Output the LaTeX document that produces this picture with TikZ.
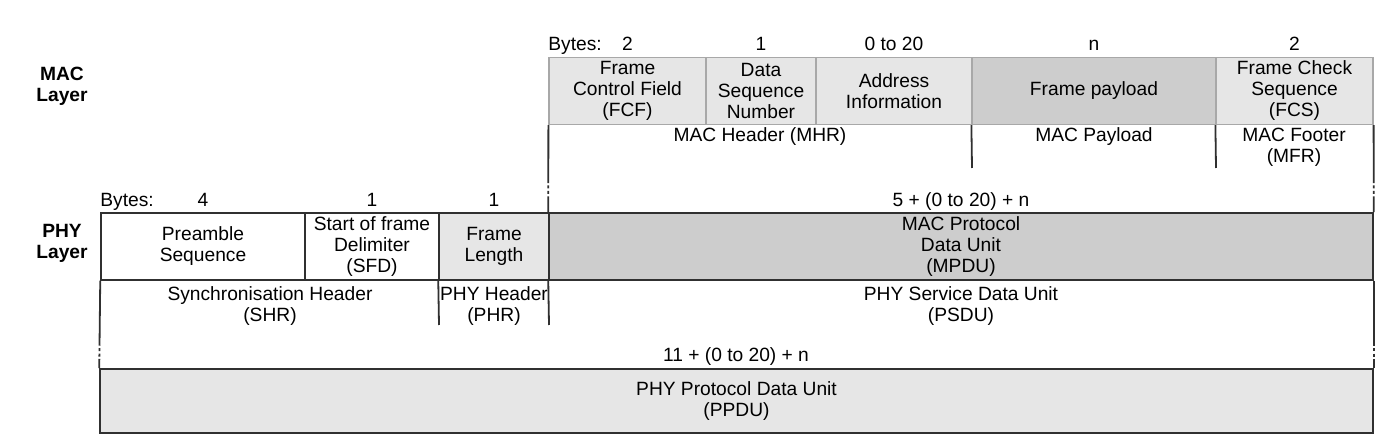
\documentclass[tikz,border=0pt]{standalone}
\usepackage{fontspec}
\setmainfont{Liberation Sans}
\definecolor{boxlight}{HTML}{E6E6E6}
\definecolor{boxdark}{HTML}{CDCDCD}
\definecolor{macedge}{HTML}{A8A8A8}
\definecolor{phyedge}{HTML}{303030}

\begin{document}
\begin{tikzpicture}
[x=0.5pt,y=-0.5pt,
font=\fontsize{9.6}{10.5}\selectfont,
fld/.style={rectangle,draw=macedge,line width=0.6pt,inner sep=0pt,align=center,minimum height=33.5pt},
pfld/.style={fld,draw=phyedge,line width=0.75pt},
lbl/.style={inner sep=0pt,align=center},
nb/.style={inner sep=0pt,anchor=base},
ln/.style={draw=phyedge,line width=0.9pt},
brk/.style={ln,dash pattern=on #1 off 1.2pt on 1.5pt off 1.2pt on 1.5pt off 1.2pt on 40pt}]
\useasboundingbox (0,0) rectangle (1386,442);
%%%%% MAC LAYER
\node[lbl,font=\fontsize{9.6}{10.5}\selectfont\bfseries] (maclayer) at (62,86) {MAC\\Layer};
\node[nb,anchor=base west] (macbytes) at (548,51) {Bytes:};
\foreach \xa/\xb/\nb/\txt/\col [count=\i] in
	{549/706/2/{Frame\\Control Field\\(FCF)}/boxlight,
	706/816/1/{Data\\Sequence\\Number}/boxlight,
	816/972/0 to 20/{Address\\Information}/boxlight,
	972/1216/n/{Frame payload}/boxdark,
	1216/1373/2/{Frame Check\\Sequence\\(FCS)}/boxlight}
{
	\node[fld,fill=\col,minimum width={(\xb-\xa)*0.5pt}] (mac\i) at ({(\xa+\xb)/2},91) {\txt};
	\node[nb] (macnb\i) at ({(\xa+\xb)/2},51) {\nb};
};
\node[lbl] (mhr) at (760,137) {MAC Header (MHR)};
\node[lbl] (mpl) at (1094,137) {MAC Payload};
\node[lbl] (mfr) at (1294,147.5) {MAC Footer\\(MFR)};
\coordinate (mhrend) at (972,168);
\coordinate (mfrend) at (1216,168);
%%%%% PHY LAYER
\node[lbl,font=\fontsize{9.6}{10.5}\selectfont\bfseries] (phylayer) at (62,243) {PHY\\Layer};
\node[nb,anchor=base west] (phybytes) at (100,207) {Bytes:};
\foreach \xa/\xb/\nb/\txt/\col [count=\i] in
	{101/305/4/{Preamble\\Sequence}/white,
	305/439/1/{Start of frame\\Delimiter\\(SFD)}/white,
	439/549/1/{Frame\\Length}/boxlight}
{
	\node[pfld,fill=\col,minimum width={(\xb-\xa)*0.5pt}] (phy\i) at ({(\xa+\xb)/2},246.5) {\txt};
	\node[nb] (phynb\i) at ({(\xa+\xb)/2},207) {\nb};
};
\node[pfld,fill=boxdark,minimum width={824*0.5pt}] (mpdu) at (961,246.5) {MAC Protocol\\Data Unit\\(MPDU)};
\node[nb] (mpdunb) at (961,207) {5 + (0 to 20) + n};
\node[lbl] (shr) at (270,306) {Synchronisation Header\\(SHR)};
\node[lbl] (phr) at (494,306) {PHY Header\\(PHR)};
\node[lbl] (psdu) at (961,306) {PHY Service Data Unit\\(PSDU)};
\coordinate (phrend) at (439,325);
\coordinate (psduend) at (549,325);
%%%%% PPDU
\node[nb] (ppdunb) at (736,362) {11 + (0 to 20) + n};
\node[pfld,fill=boxlight,minimum width={1273*0.5pt},minimum height=32pt] (ppdu) at (736.5,401) {PHY Protocol Data Unit\\(PPDU)};
%%%%% CONNECTORS
\draw[brk=29pt] (mac1.south west) -- (mpdu.north west);
\draw[brk=29pt] (mac5.south east) -- (mpdu.north east);
\draw[ln] (mac4.south west) -- (mhrend);
\draw[ln] (mac5.south west) -- (mfrend);
\draw[brk=32.5pt] (phy1.south west) -- (ppdu.north west);
\draw[brk=32.5pt] (mpdu.south east) -- (ppdu.north east);
\draw[ln] (phy3.south west) -- (phrend);
\draw[ln] (mpdu.south west) -- (psduend);
\end{tikzpicture}
\end{document}
